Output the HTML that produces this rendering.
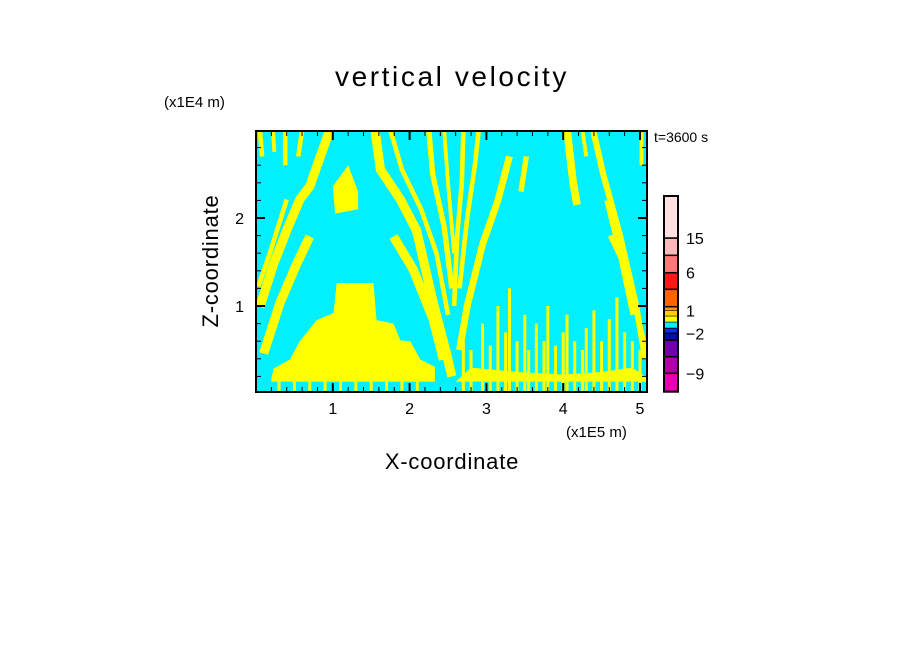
<!DOCTYPE html>
<html><head><meta charset="utf-8"><style>
body{margin:0;background:#fff;width:904px;height:654px;overflow:hidden}
svg{display:block;font-family:"Liberation Sans",sans-serif}
</style></head><body>
<svg id="chart" width="904" height="654" viewBox="0 0 904 654">
<text x="452" y="86" text-anchor="middle" font-size="28" letter-spacing="2.6">vertical velocity</text>
<text x="164" y="107" font-size="15">(x1E4 m)</text>
<text x="566" y="437" font-size="15">(x1E5 m)</text>
<text x="654" y="142" font-size="14">t=3600 s</text>
<text x="452" y="469" text-anchor="middle" font-size="22" letter-spacing="0.8">X-coordinate</text>
<text transform="translate(218,261) rotate(-90)" text-anchor="middle" font-size="22" letter-spacing="0.8">Z-coordinate</text>
<defs><clipPath id="clip"><rect x="256" y="131" width="391" height="261"/></clipPath></defs>
<g id="field" clip-path="url(#clip)">
<rect x="256" y="131" width="391" height="261" fill="#00f0ff"/>
</g>
<g id="axes"></g>
<g id="cbar"></g>
</svg>
<script>
const xTicks=[1,2,3,4,5];
const zTicks=[1,2];
const cbarColors=["#e800b0","#b000a8","#7000a8","#0010a0","#0030ff","#00f0ff","#ffff00","#ffd000","#ff9800","#ff6400","#ff1818","#ff7878","#ffb8b8","#ffe0e0"];
const cbarLevels=[-12,-9,-6,-3,-2,-1,0,0.5,1,1.5,3,6,9,15,24];
const cbarLabels=[["15",13],["6",11],["1",8],["\u22122",4],["\u22129",1]];
const stripes=[
{w:0.12,p:[[0.96,3.0],[0.70,2.36],[0.57,2.21],[0.40,1.86],[0.23,1.48],[0.05,0.99]]},
{w:0.12,p:[[0.70,1.79],[0.53,1.48],[0.31,1.03],[0.10,0.46]]},
{w:0.06,p:[[0.40,2.21],[0.18,1.60],[0.03,1.22]]},
{w:0.06,p:[[0.05,3.0],[0.08,2.7]]},
{w:0.05,p:[[0.22,3.0],[0.24,2.75]]},
{w:0.06,p:[[0.38,3.0],[0.38,2.6]]},
{w:0.06,p:[[0.60,3.0],[0.55,2.7]]},
{w:0.12,p:[[1.55,3.0],[1.62,2.55],[1.88,2.21],[2.09,1.86],[2.31,1.03],[2.48,0.46],[2.55,0.2]]},
{w:0.12,p:[[1.79,1.79],[2.05,1.41],[2.31,0.84],[2.44,0.39]]},
{w:0.06,p:[[1.75,3.0],[1.90,2.55],[2.15,2.1],[2.35,1.6],[2.50,0.9]]},
{w:0.07,p:[[2.25,3.0],[2.30,2.5],[2.45,1.9],[2.55,1.2]]},
{w:0.05,p:[[2.45,3.0],[2.50,2.4],[2.58,1.6]]},
{w:0.06,p:[[2.70,3.0],[2.68,2.4],[2.62,1.8],[2.58,1.0]]},
{w:0.06,p:[[2.9,3.0],[2.85,2.6],[2.75,2.0],[2.65,1.2]]},
{w:0.09,p:[[3.3,2.7],[3.15,2.2],[2.95,1.7],[2.75,1.0],[2.65,0.5]]},
{w:0.07,p:[[3.52,2.7],[3.45,2.3]]},
{w:0.10,p:[[4.05,3.0],[4.13,2.4],[4.18,2.15]]},
{w:0.08,p:[[4.39,3.0],[4.52,2.5],[4.74,1.8],[4.95,1.0],[5.07,0.4]]},
{w:0.07,p:[[4.57,2.2],[4.74,1.6],[4.91,0.9]]},
{w:0.06,p:[[4.61,1.8],[4.83,1.4],[5.05,0.6]]},
{w:0.05,p:[[5.02,3.0],[5.02,2.6]]},
{w:0.05,p:[[4.25,3.0],[4.3,2.7]]}
];
const blobs=[
[[0.20,0.14],[0.20,0.18],[0.23,0.29],[0.44,0.39],[0.57,0.60],[0.79,0.84],[1.01,0.92],[1.05,1.26],[1.53,1.26],[1.57,0.84],[1.79,0.80],[1.88,0.61],[2.01,0.60],[2.14,0.39],[2.33,0.31],[2.33,0.14]],
[[1.0,2.36],[1.2,2.60],[1.33,2.3],[1.33,2.1],[1.03,2.05]],
[[2.6,0.14],[2.8,0.3],[3.4,0.25],[4.0,0.22],[4.5,0.25],[4.9,0.3],[5.1,0.18],[5.1,0.14]]
];
const spikeX=[2.7,2.8,2.95,3.05,3.15,3.25,3.3,3.4,3.5,3.55,3.65,3.75,3.8,3.9,4.0,4.05,4.15,4.25,4.3,4.4,4.5,4.6,4.7,4.8,4.9,5.0,0.3,0.5,0.7,0.9,1.1,1.3,1.5,1.7,1.9,2.1];
const spikeZ=[0.6,0.5,0.8,0.55,1.0,0.7,1.2,0.6,0.9,0.5,0.8,0.6,1.0,0.55,0.7,0.9,0.6,0.5,0.75,0.95,0.6,0.85,1.1,0.7,0.6,0.5,0.2,0.2,0.2,0.2,0.2,0.2,0.2,0.2,0.2,0.2];
const NS="http://www.w3.org/2000/svg";
const X=v=>256+v*76.8, Z=v=>394-v*88;
function mk(t,a,parent){const e=document.createElementNS(NS,t);for(const k in a)e.setAttribute(k,a[k]);parent.appendChild(e);return e;}
const field=document.getElementById('field');
blobs.forEach(b=>{const e=mk('polygon',{points:b.map(p=>X(p[0])+','+Z(p[1])).join(' '),fill:'#ffff00'},field);

});
stripes.forEach(s=>{const e=mk('polyline',{points:s.p.map(p=>X(p[0])+','+Z(p[1])).join(' '),fill:'none',stroke:'#ffff00','stroke-width':s.w*76.8,'stroke-linejoin':'round'},field);

});
spikeX.forEach((x,i)=>{const e=mk('rect',{x:X(x)-1.5,y:Z(spikeZ[i]),width:3,height:Z(0)-Z(spikeZ[i]),fill:'#ffff00'},field);

});
const ax=document.getElementById('axes');
const fr=mk('rect',{x:256,y:131,width:391,height:261,fill:'none',stroke:'#000','stroke-width':2},ax);


for(let v=0.2;v<5.1;v+=0.2){const big=Math.abs(v-Math.round(v))<0.01;const L=big?9:5;
mk('line',{x1:X(v),x2:X(v),y1:392,y2:392-L,stroke:'#000','stroke-width':big?2:1},ax);
mk('line',{x1:X(v),x2:X(v),y1:131,y2:131+L,stroke:'#000','stroke-width':big?2:1},ax);}
for(let v=0.2;v<3;v+=0.2){const big=Math.abs(v-Math.round(v))<0.01;const L=big?9:5;
mk('line',{x1:256,x2:256+L,y1:Z(v),y2:Z(v),stroke:'#000','stroke-width':big?2:1},ax);
mk('line',{x1:647,x2:647-L,y1:Z(v),y2:Z(v),stroke:'#000','stroke-width':big?2:1},ax);}
xTicks.forEach(v=>{const t=mk('text',{x:X(v),y:414,'text-anchor':'middle','font-size':16},ax);t.textContent=v;

});
zTicks.forEach(v=>{const t=mk('text',{x:244,y:Z(v)+6,'text-anchor':'end','font-size':16},ax);t.textContent=v;

});
const cb=document.getElementById('cbar');
const cbY=[391.7,373.3,356.7,340,333.3,328,322,316,310.7,306.7,289.3,272.7,255.3,238,196];
cbarColors.forEach((c,i)=>{const e=mk('rect',{x:664,y:cbY[i+1],width:14,height:cbY[i]-cbY[i+1],fill:c,stroke:'#000','stroke-width':(i<5||i>8)?1.5:0.5},cb);

});
mk('rect',{x:664,y:196,width:14,height:195.7,fill:'none',stroke:'#000','stroke-width':2},cb);
cbarLabels.forEach(l=>{const t=mk('text',{x:686,y:cbY[l[1]]+6,'font-size':16},cb);t.textContent=l[0];

});
</script>
</body></html>
